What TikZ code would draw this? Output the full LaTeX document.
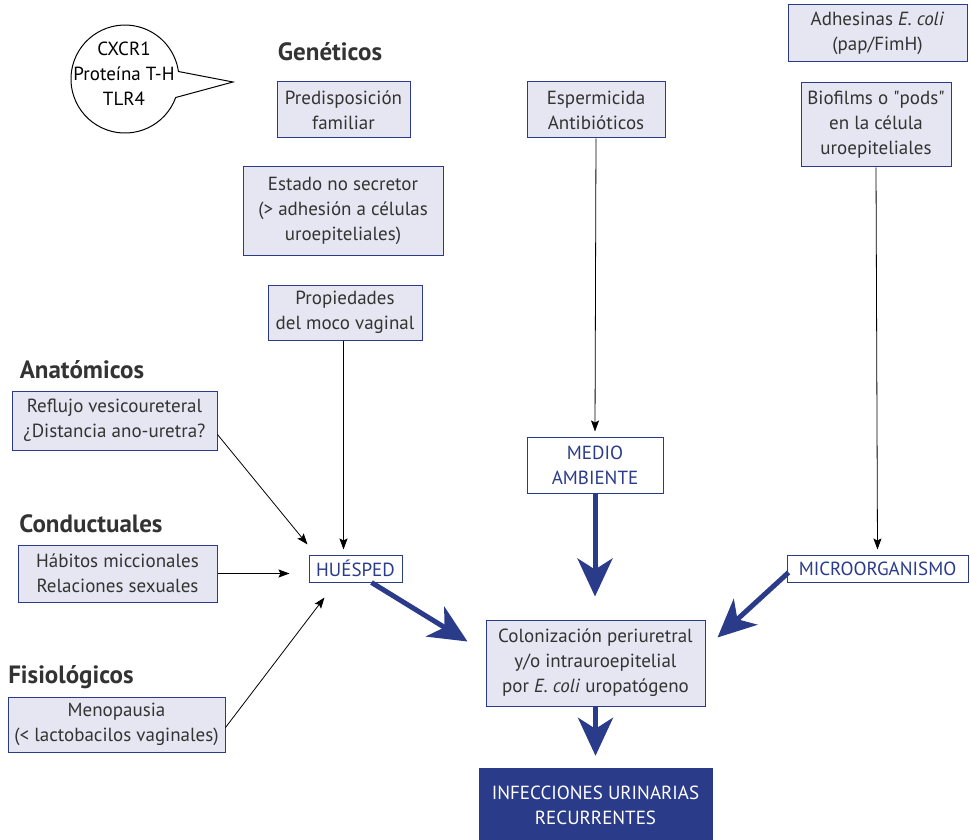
\documentclass[tikz,border=0pt]{standalone}
\usepackage{fontspec}
\setmainfont{PT Sans}
\usetikzlibrary{arrows.meta}
\definecolor{navy}{HTML}{2A3B8A}
\definecolor{lav}{HTML}{E6E6F2}
\definecolor{ink}{HTML}{333333}
\tikzset{
  x=1pt, y=-1pt,
  txt/.style={font=\fontsize{19}{25}\selectfont, text=ink, align=center},
  fbox/.style={txt, draw=navy, fill=lav, line width=1pt, inner sep=0pt},
  keybox/.style={draw=navy, fill=white, line width=1pt, font=\fontsize{19}{25}\selectfont, text=navy, align=center, inner sep=0pt},
  heading/.style={font=\bfseries\fontsize{25}{25}\selectfont, text=ink},
  thin/.style={draw=black, line width=0.8pt, -{Stealth[length=11pt, width=8pt, inset=2pt]}},
  thick/.style={draw=navy, line width=5pt, -{Stealth[length=38pt, width=35pt, inset=11pt]}},
}
\begin{document}
\begin{tikzpicture}
\useasboundingbox (0,0) rectangle (970,840);

% speech bubble
\draw[line width=1pt, fill=white] (175.7,97.5) arc[start angle=-20, end angle=-352, radius=54pt]
  -- (233,82) -- cycle;
\node[txt, text=black] (bubble) at (124,74) {CXCR1\\Proteína T-H\\TLR4};

% headings
\node[heading] (hgen) at (330,52) {Genéticos};
\node[heading] (hana) at (82,370) {Anatómicos};
\node[heading] (hcon) at (91,524) {Conductuales};
\node[heading] (hfis) at (71,677) {Fisiológicos};

% host factors
\node[fbox, minimum width=133pt, minimum height=56pt] (pred) at (343.5,110) {Predisposición\\familiar};
\node[fbox, minimum width=200pt, minimum height=88pt] (secr) at (343,211) {Estado no secretor\\(> adhesión a células\\uroepiteliales)};
\node[fbox, minimum width=154pt, minimum height=55pt] (moco) at (345,312.5) {Propiedades\\del moco vaginal};
\node[fbox, minimum width=205pt, minimum height=59pt] (refl) at (114.5,420.5) {Reflujo vesicoureteral\\¿Distancia ano-uretra?};
\node[fbox, minimum width=199pt, minimum height=57pt] (habi) at (117.5,573.5) {Hábitos miccionales\\Relaciones sexuales};
\node[fbox, minimum width=217pt, minimum height=55pt] (meno) at (116.5,724.5) {Menopausia\\(< lactobacilos vaginales)};

% environment and microorganism factors
\node[fbox, minimum width=138pt, minimum height=56pt] (espe) at (596,110) {Espermicida\\Antibióticos};
\node[fbox, minimum width=179pt, minimum height=57pt] (adhe) at (877.5,33.5) {Adhesinas \textit{E. coli}\\(pap/FimH)};
\node[fbox, minimum width=150pt, minimum height=84pt] (biof) at (876,125) {Biofilms o \textquotedbl pods\textquotedbl\\en la célula\\uroepiteliales};

% key nodes
\node[keybox, minimum width=93pt, minimum height=27pt] (hues) at (355.5,568.5) {HUÉSPED};
\node[keybox, minimum width=136pt, minimum height=56pt] (medi) at (595,465) {MEDIO\\AMBIENTE};
\node[keybox, minimum width=181pt, minimum height=27pt] (micr) at (877.5,568.5) {MICROORGANISMO};
\node[fbox, minimum width=219pt, minimum height=86pt] (colo) at (595.5,663) {Colonización periuretral\\y/o intrauroepitelial\\por \textit{E. coli} uropatógeno};
\node[draw=navy, fill=navy, text=white, font=\fontsize{19}{25}\selectfont, align=center,
      minimum width=233pt, minimum height=74pt, inner sep=0pt] (infe) at (595.5,805) {INFECCIONES URINARIAS\\RECURRENTES};

% thin connectors
\coordinate (hT) at ([xshift=-12pt]hues.north);
\draw[thin] (moco.south -| hT) -- ([yshift=5pt]hT);
\draw[thin] ([yshift=-14pt]refl.east) -- ([xshift=-1pt,yshift=10pt]hues.north west);
\draw[thin] (habi.east) -- ([xshift=-19pt]habi.east -| hues.west);
\draw[thin] ([yshift=-3pt]meno.east) -- ([xshift=16pt,yshift=-15pt]hues.south west);
\draw[thin] (espe.south) -- ([yshift=5pt]medi.north);
\draw[thin] (biof.south) -- ([yshift=5pt]micr.north);

% thick connectors
\draw[thick] (medi.south) -- ([yshift=23pt]medi.south |- colo.north);
\draw[thick] ([xshift=16pt]hues.south) -- ([xshift=-18pt,yshift=-22pt]colo.north west);
\draw[thick] ([xshift=2pt,yshift=-4pt]micr.west) -- ([xshift=12pt,yshift=-18pt]colo.north east);
\draw[thick] (colo.south) -- ([yshift=12pt]infe.north);
\end{tikzpicture}
\end{document}
